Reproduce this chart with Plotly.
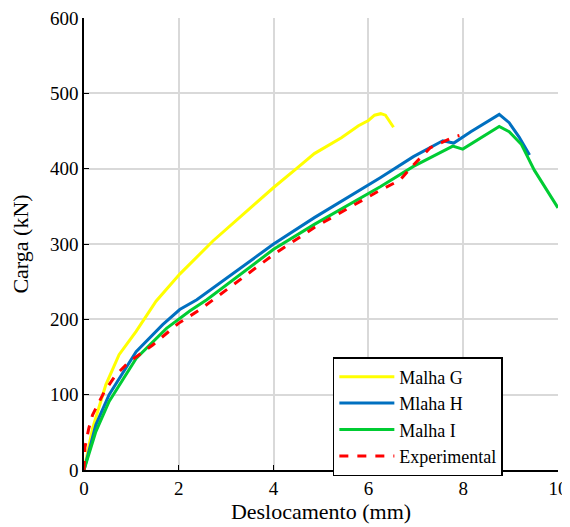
import plotly.graph_objects as go

g_x = [0, 0.18, 0.46, 0.74, 1.1, 1.52, 2.02, 2.72, 3.44, 4.0, 4.5, 4.86, 5.43, 5.79, 6.0, 6.13, 6.26, 6.36, 6.53]
g_y = [0, 55, 113, 153, 184, 224, 260, 304, 344, 375, 401, 420, 441, 457, 464, 471, 473, 471, 455]

h_x = [0, 0.25, 0.53, 1.1, 1.66, 2.02, 2.38, 4.0, 4.86, 6.25, 6.95, 7.57, 7.8, 8.16, 8.76, 8.97, 9.18, 9.4]
h_y = [0, 60, 100, 157, 193, 213, 226, 300, 335, 388, 416, 437, 434, 449, 472, 461, 442, 418]

i_x = [0, 0.25, 0.53, 1.1, 1.74, 2.23, 2.59, 4.0, 4.86, 6.25, 6.95, 7.78, 7.99, 8.76, 8.97, 9.23, 9.5, 9.8, 10.0]
i_y = [0, 51, 91, 148, 188, 211, 226, 293, 326, 376, 403, 430, 426, 456, 449, 432, 398, 367, 348]

e_x = [0, 0.02, 0.1, 0.18, 0.43, 0.67, 0.96, 1.45, 2.0, 2.45, 4.0, 4.86, 6.18, 6.67, 6.95, 7.31, 7.8, 7.92]
e_y = [0, 30, 55, 73, 104, 126, 144, 166, 195, 213, 286, 322, 369, 385, 405, 428, 442, 444]

fig = go.Figure()
fig.add_trace(go.Scatter(x=g_x, y=g_y, mode="lines", name="Malha G",
                         line=dict(color="#FFFF00", width=3)))
fig.add_trace(go.Scatter(x=h_x, y=h_y, mode="lines", name="Mlaha H",
                         line=dict(color="#0070C0", width=3)))
fig.add_trace(go.Scatter(x=i_x, y=i_y, mode="lines", name="Malha I",
                         line=dict(color="#00CC33", width=3)))
fig.add_trace(go.Scatter(x=e_x, y=e_y, mode="lines", name="Experimental",
                         line=dict(color="#FF0000", width=3, dash="dash")))

fam = "Liberation Serif, Times New Roman, serif"
tickfont = dict(family=fam, size=19, color="black")
titlefont = dict(family=fam, size=22, color="black")
fig.update_layout(
    width=562, height=519,
    margin=dict(l=76, r=12, t=10, b=57, autoexpand=False),
    plot_bgcolor="white", paper_bgcolor="white",
    font=tickfont,
    showlegend=True,
    legend=dict(x=0.525, y=0.25, xanchor="left", yanchor="top",
                bordercolor="black", borderwidth=1.5, bgcolor="white",
                font=dict(family=fam, size=18, color="black"),
                tracegroupgap=0, itemwidth=55),
)
fig.update_xaxes(range=[0, 10], dtick=2, showgrid=True, gridcolor="#D9D9D9", gridwidth=2,
                 showline=True, linecolor="black", linewidth=1.5, ticks="inside", ticklen=5,
                 tickcolor="black", zeroline=False, tickfont=tickfont, automargin=False,
                 ticklabeloverflow="allow",
                 title=dict(text="Deslocamento (mm)", standoff=4, font=titlefont))
fig.update_yaxes(range=[0, 600], dtick=100, showgrid=True, gridcolor="#D9D9D9", gridwidth=2,
                 showline=True, linecolor="black", linewidth=1.5, ticks="inside", ticklen=5,
                 tickcolor="black", zeroline=False, tickfont=tickfont, automargin=False,
                 ticklabeloverflow="allow",
                 title=dict(text="Carga (kN)", standoff=16, font=titlefont))
fig.write_html("out.html")
